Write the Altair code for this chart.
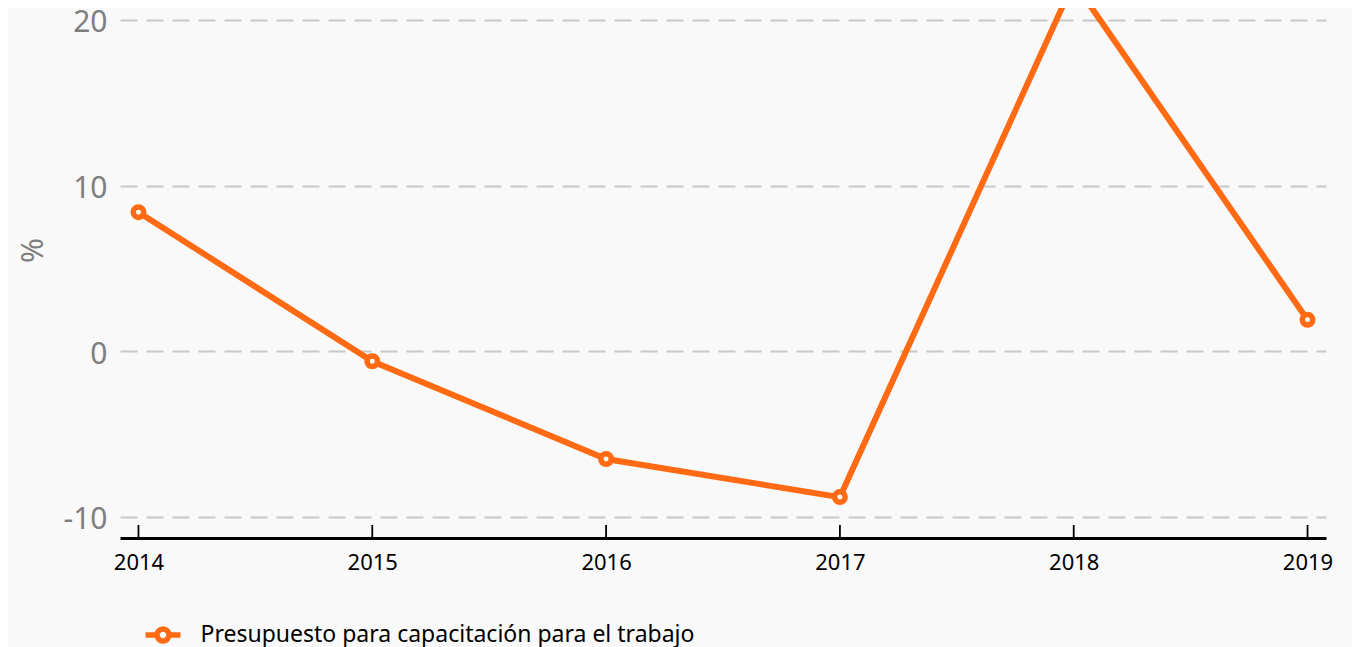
import altair as alt
import pandas as pd

years = ["2014", "2015", "2016", "2017", "2018", "2019"]
values = [8.4, -0.6, -6.5, -8.8, 22.3, 1.9]
series_name = "Presupuesto para capacitación para el trabajo"
y_ticks = [-10, 0, 10, 20]

ORANGE = "#FF6A13"
df = pd.DataFrame({"year": years, "value": values, "serie": [series_name] * len(years)})

x_enc = alt.X(
    "year:N",
    sort=years,
    scale=alt.Scale(type="point", padding=0.079),
    axis=alt.Axis(
        title=None, labelAngle=0, labelFontSize=22, labelColor="#000000",
        labelPadding=14, ticks=False, domainColor="#000000", domainWidth=3,
        grid=False,
    ),
)
y_enc = alt.Y(
    "value:Q",
    scale=alt.Scale(domain=[-11.268, 21.207], nice=False, zero=False),
    axis=alt.Axis(
        title="%", values=y_ticks, labelFontSize=30, labelColor="#7f7f7f",
        labelPadding=13, ticks=False, domain=False, grid=True,
        labelExpr="'' + datum.value", labelOffset=3,
        gridColor="#c8c8c8", gridWidth=2, gridDash=[17, 9],
        titleColor="#7f7f7f", titleFontSize=30, titleFontWeight="normal",
        titleX=-87, titleY=250, titleAngle=-90, titleAlign="center",
        titleBaseline="middle",
    ),
)

legend_path = "M-1,0L-0.34,0M0.34,0L1,0M0.34,0A0.34,0.34,0,1,1,-0.34,0A0.34,0.34,0,1,1,0.34,0Z"

base = alt.Chart(df)

line = base.mark_line(strokeWidth=6, clip=True).encode(
    x=x_enc,
    y=y_enc,
    color=alt.Color(
        "serie:N",
        scale=alt.Scale(range=[ORANGE]),
        legend=alt.Legend(
            title=None, orient="none", legendX=22.5, legendY=614.5,
            symbolType=legend_path, symbolSize=1225, symbolStrokeWidth=5.5,
            symbolFillColor="#ffffff", symbolStrokeColor=ORANGE,
            labelFontSize=23, labelColor="#000000", labelOffset=17,
            padding=0, labelLimit=800,
        ),
    ),
)

points = base.mark_point(
    shape="circle", filled=True, fill="#ffffff", stroke=ORANGE,
    strokeWidth=5.5, size=110, opacity=1, clip=True,
).encode(x=x_enc, y=y_enc)

ticks = base.mark_rule(color="#000000", strokeWidth=1.8).encode(
    x=x_enc, y=alt.value(525), y2=alt.value(538)
)

chart = (
    alt.layer(line, points, ticks)
    .properties(
        width=1206, height=538,
        padding={"left": 112, "top": -8, "right": 26, "bottom": 109},
        autosize=alt.AutoSizeParams(type="none"),
        background="#f9f9f9",
    )
    .configure(font="Noto Sans")
    .configure_view(stroke=None)
)

chart.save("out.html", embed_options={"renderer": "svg", "actions": False})
